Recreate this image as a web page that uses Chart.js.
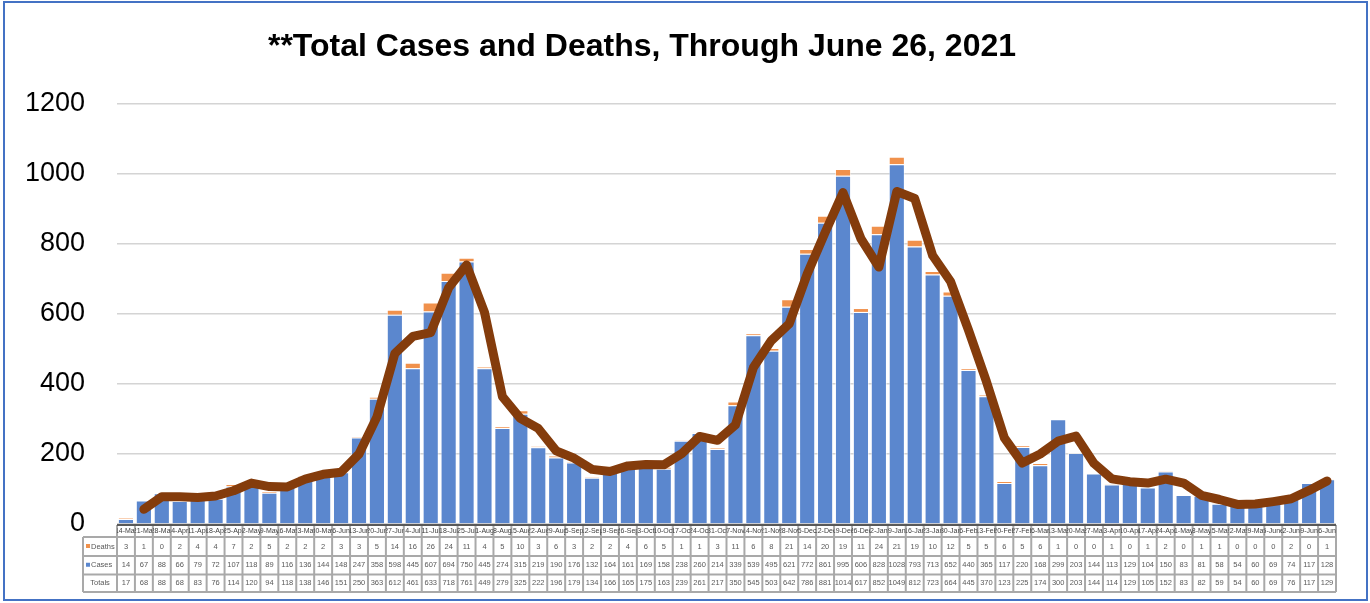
<!DOCTYPE html>
<html>
<head>
<meta charset="utf-8">
<script src="https://cdn.jsdelivr.net/npm/chart.js@4/dist/chart.umd.min.js"></script>
<style>
  html, body { margin: 0; padding: 0; background: #ffffff; }
  canvas { display: block; }
</style>
</head>
<body>
<canvas id="c" width="1370" height="603"></canvas>
<script>
const chartTitle = '**Total Cases and Deaths, Through June 26, 2021';

const categories = ['14-Mar','21-Mar','28-Mar','4-Apr','11-Apr','18-Apr','25-Apr','2-May','9-May','16-May','23-May','30-May','6-Jun','13-Jun','20-Jun','27-Jun',
  '4-Jul','11-Jul','18-Jul','25-Jul','1-Aug','8-Aug','15-Aug','22-Aug','29-Aug','5-Sep','12-Sep','19-Sep','26-Sep','3-Oct','10-Oct','17-Oct','24-Oct','31-Oct',
  '7-Nov','14-Nov','21-Nov','28-Nov','5-Dec','12-Dec','19-Dec','26-Dec','2-Jan','9-Jan','16-Jan','23-Jan','30-Jan','6-Feb','13-Feb','20-Feb','27-Feb','6-Mar',
  '13-Mar','20-Mar','27-Mar','3-Apr','10-Apr','17-Apr','24-Apr','1-May','8-May','15-May','22-May','29-May','5-June','12-June','19-June','26-June'];

const deaths = [3,1,0,2,4,4,7,2,5,2,2,2,3,3,5,14,
  16,26,24,11,4,5,10,3,6,3,2,2,4,6,5,1,1,3,
  11,6,8,21,14,20,19,11,24,21,19,10,12,5,5,6,5,6,
  1,0,0,1,0,1,2,0,1,1,0,0,0,2,0,1];

const cases = [14,67,88,66,79,72,107,118,89,116,136,144,148,247,358,598,
  445,607,694,750,445,274,315,219,190,176,132,164,161,169,158,238,260,214,
  339,539,495,621,772,861,995,606,828,1028,793,713,652,440,365,117,220,168,
  299,203,144,113,129,104,150,83,81,58,54,60,69,74,117,128];

const totals = [17,68,88,68,83,76,114,120,94,118,138,146,151,250,363,612,
  461,633,718,761,449,279,325,222,196,179,134,166,165,175,163,239,261,217,
  350,545,503,642,786,881,1014,617,852,1049,812,723,664,445,370,123,225,174,
  300,203,144,114,129,105,152,83,82,59,54,60,69,76,117,129];

// Brown trend line
const trendLine = [null,42,78,78,76,80,95,117,107,106,128,142,148,200,306,487,
  536,547,675,740,605,364,302,273,209,188,156,150,166,170,169,201,250,239,
  283,447,524,572,714,833,947,815,734,950,930,767,693,554,407,246,174,200,
  237,251,173,129,121,117,128,117,82,70,56,57,64,72,96,123];

const yTicks = [0,200,400,600,800,1000,1200];

const rowNames = ['Deaths','Cases','Totals'];
const rowColors = ['#F0914C','#5B87CE',null];
const rowValues = [deaths, cases, totals];

const frameAndTablePlugin = {
  id: 'frameAndTable',
  beforeDraw(chart) {
    const ctx = chart.ctx;
    ctx.save();
    ctx.fillStyle = '#ffffff';
    ctx.fillRect(0, 0, chart.width, chart.height);
    ctx.restore();
  },
  afterDraw(chart) {
    const ctx = chart.ctx;
    const xs = chart.scales.x;
    const ys = chart.scales.y;
    const n = categories.length;
    const left = xs.left, right = xs.right;
    const cw = (right - left) / n;
    const y0 = ys.getPixelForValue(0);
    ctx.save();

    // title
    ctx.fillStyle = '#000000';
    ctx.font = 'bold 32px "Liberation Sans", Arial, sans-serif';
    ctx.textAlign = 'center';
    ctx.textBaseline = 'alphabetic';
    ctx.fillText(chartTitle, 642, 56);

    // table geometry
    const headTop = y0 + 1, headBot = 537;
    const rowB = [537, 556, 574.5, 592];
    const legL = 83;

    // grid lines
    ctx.strokeStyle = '#a9a9a9';
    ctx.lineWidth = 2;
    ctx.beginPath();
    for (let i = 0; i <= n; i++) {
      const x = xs.getPixelForValue(i) - cw / 2;
      ctx.moveTo(x, headTop); ctx.lineTo(x, rowB[3]);
    }
    ctx.moveTo(legL, rowB[0]); ctx.lineTo(legL, rowB[3]);
    for (let r = 0; r < rowB.length; r++) {
      ctx.moveTo(legL, rowB[r]); ctx.lineTo(right, rowB[r]);
    }
    ctx.stroke();

    // axis line
    ctx.strokeStyle = '#595959';
    ctx.lineWidth = 2;
    ctx.beginPath();
    ctx.moveTo(left, y0 + 1); ctx.lineTo(right, y0 + 1);
    ctx.stroke();

    // header labels (clipped to their cells)
    ctx.font = '7px "Liberation Sans", Arial, sans-serif';
    ctx.fillStyle = '#404040';
    ctx.textAlign = 'center';
    ctx.textBaseline = 'middle';
    for (let i = 0; i < n; i++) {
      const cx = xs.getPixelForValue(i);
      ctx.save();
      ctx.beginPath();
      ctx.rect(cx - cw / 2, headTop, cw, headBot - headTop);
      ctx.clip();
      ctx.fillText(categories[i], cx, (headTop + headBot) / 2 + 0.5);
      ctx.restore();
    }

    // data rows
    ctx.font = '7.5px "Liberation Sans", Arial, sans-serif';
    ctx.fillStyle = '#595959';
    for (let r = 0; r < 3; r++) {
      const cy = (rowB[r] + rowB[r + 1]) / 2;
      for (let i = 0; i < n; i++) {
        ctx.fillText(String(rowValues[r][i]), xs.getPixelForValue(i), cy);
      }
      // legend column
      if (rowColors[r]) {
        ctx.fillStyle = rowColors[r];
        ctx.fillRect(legL + 3, cy - 2.5, 4, 4);
        ctx.fillStyle = '#595959';
        ctx.textAlign = 'left';
        ctx.fillText(rowNames[r], legL + 8, cy);
        ctx.textAlign = 'center';
      } else {
        ctx.fillText(rowNames[r], (legL + left) / 2, cy);
      }
    }

    // frame
    ctx.strokeStyle = '#4472C4';
    ctx.lineWidth = 2;
    ctx.strokeRect(4, 2, 1363, 598);
    ctx.restore();
  }
};

new Chart(document.getElementById('c'), {
  type: 'bar',
  data: {
    labels: categories,
    datasets: [
      {
        type: 'line',
        label: 'Trend (Totals)',
        data: trendLine,
        borderColor: '#843C0C',
        borderWidth: 9,
        pointRadius: 0,
        tension: 0,
        borderJoinStyle: 'round',
        borderCapStyle: 'round',
        stack: 'line',
        order: 0
      },
      {
        label: 'Cases',
        data: cases,
        backgroundColor: '#5B87CE',
        borderColor: 'rgba(255,255,255,0.55)',
        borderWidth: 1,
        stack: 'bars',
        order: 1,
        barPercentage: 0.9,
        categoryPercentage: 1.0
      },
      {
        label: 'Deaths',
        data: deaths,
        backgroundColor: '#F0914C',
        borderColor: 'rgba(255,255,255,0.55)',
        borderWidth: 1,
        stack: 'bars',
        order: 1,
        barPercentage: 0.9,
        categoryPercentage: 1.0
      }
    ]
  },
  options: {
    responsive: false,
    animation: false,
    devicePixelRatio: 1,
    layout: { padding: { left: 0, right: 34, top: 104, bottom: 79 } },
    plugins: {
      legend: { display: false },
      title: { display: false },
      tooltip: { enabled: false }
    },
    scales: {
      x: {
        display: false,
        stacked: true
      },
      y: {
        stacked: true,
        min: 0,
        max: 1200,
        afterFit(scale) { scale.width = 117; },
        afterBuildTicks(scale) { scale.ticks = yTicks.map(v => ({ value: v })); },
        ticks: {
          color: '#000000',
          font: { family: '"Liberation Sans", Arial, sans-serif', size: 27 },
          padding: 32,
          callback: (v) => String(v)
        },
        grid: { color: '#d4d4d4', lineWidth: 1.5, drawTicks: false },
        border: { display: false }
      }
    }
  },
  plugins: [frameAndTablePlugin]
});
</script>
</body>
</html>
